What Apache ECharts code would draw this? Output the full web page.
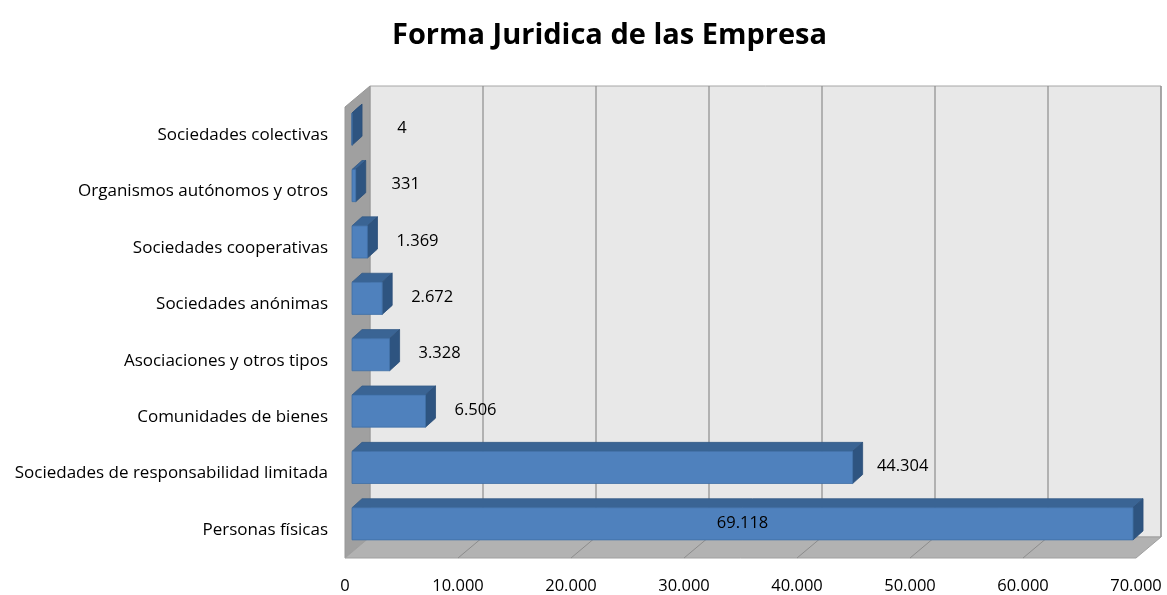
<!DOCTYPE html>
<html><head><meta charset="utf-8">
<script src="https://cdn.jsdelivr.net/npm/echarts@6/dist/echarts.min.js"></script>
<style>html,body{margin:0;padding:0;background:#fff}#c{width:1167px;height:595px}</style>
</head><body><div id="c"></div>
<script>
const titleText = "Forma Juridica de las Empresa";
const categories = [
  "Personas físicas",
  "Sociedades de responsabilidad limitada",
  "Comunidades de bienes",
  "Asociaciones y otros tipos",
  "Sociedades anónimas",
  "Sociedades cooperativas",
  "Organismos autónomos y otros",
  "Sociedades colectivas"
];
const values = [69118, 44304, 6506, 3328, 2672, 1369, 331, 4];
const xTicks = [0, 10000, 20000, 30000, 40000, 50000, 60000, 70000];

const FONT = "'Open Sans'";
const fmt = v => String(v).replace(/\B(?=(\d{3})+(?!\d))/g, ".");

// 3D look parameters (pixels)
const WALL_DX = 25, WALL_DY = -21;
const BAR_OX = 7, BAR_OY = -6;
const BAR_DX = 10, BAR_DY = -9;

const chart = echarts.init(document.getElementById('c'), null, {renderer: 'canvas'});

function renderWalls(params, api) {
  const cs = params.coordSys;
  const x = cs.x, y = cs.y, w = cs.width, h = cs.height;
  const children = [];
  children.push({type: 'rect', shape: {x: x + WALL_DX, y: y + WALL_DY, width: w, height: h},
    style: {fill: '#e8e8e8', stroke: '#a6a6a6', lineWidth: 1}});
  xTicks.forEach(t => {
    const px = api.coord([t, 0])[0];
    if (t > 0) children.push({type: 'line', shape: {x1: px + WALL_DX, y1: y + WALL_DY, x2: px + WALL_DX, y2: y + h + WALL_DY},
      style: {stroke: '#8c8c8c', lineWidth: 1.2}});
  });
  children.push({type: 'polygon', shape: {points: [[x, y + h], [x, y], [x + WALL_DX, y + WALL_DY], [x + WALL_DX, y + h + WALL_DY]]},
    style: {fill: '#a0a0a0', stroke: '#979797', lineWidth: 1}});
  children.push({type: 'polygon', shape: {points: [[x, y + h], [x + w, y + h], [x + w + WALL_DX, y + h + WALL_DY], [x + WALL_DX, y + h + WALL_DY]]},
    style: {fill: '#b2b2b2', stroke: '#a0a0a0', lineWidth: 1}});
  xTicks.forEach(t => {
    const px = api.coord([t, 0])[0];
    if (t > 0 && t < 70000) children.push({type: 'line', shape: {x1: px, y1: y + h, x2: px + WALL_DX, y2: y + h + WALL_DY},
      style: {stroke: '#8c8c8c', lineWidth: 1}});
  });
  return {type: 'group', children: children};
}

function renderBar(params, api) {
  const v = api.value(0), ci = api.value(1);
  const cs = params.coordSys;
  const p0 = api.coord([0, ci]), p1 = api.coord([v, ci]);
  const bh = api.size([0, 1])[1] * 0.57;
  const x0 = p0[0] + BAR_OX, x1 = p1[0] + BAR_OX;
  const yc = p0[1] + BAR_OY, yt = yc - bh / 2, yb = yc + bh / 2;
  const txt = fmt(v);
  let lx = x1 + 50;
  if (lx + 25 > cs.x + cs.width) lx = (x0 + x1) / 2;
  return {type: 'group', children: [
    {type: 'polygon', shape: {points: [[x0, yt], [x1, yt], [x1 + BAR_DX, yt + BAR_DY], [x0 + BAR_DX, yt + BAR_DY]]},
      style: {fill: '#3a6494', stroke: '#355a87', lineWidth: 0.8}},
    {type: 'polygon', shape: {points: [[x1, yt], [x1 + BAR_DX, yt + BAR_DY], [x1 + BAR_DX, yb + BAR_DY], [x1, yb]]},
      style: {fill: '#2e5480', stroke: '#2c4f79', lineWidth: 0.8}},
    {type: 'rect', shape: {x: x0, y: yt, width: Math.max(x1 - x0, 0), height: bh},
      style: {fill: '#4f81bd', stroke: '#3f6ea6', lineWidth: 0.8}},
    {type: 'text', x: lx, y: yc - 1, style: {text: txt, fill: '#000', font: '16.5px ' + FONT, align: 'center', verticalAlign: 'middle'}}
  ]};
}

chart.setOption({
  animation: false,
  backgroundColor: '#ffffff',
  title: {text: titleText, left: 387, top: 16,
    textStyle: {fontFamily: 'Open Sans', fontSize: 29, fontWeight: 'bold', color: '#000'}},
  grid: {left: 345, top: 107, width: 791, height: 451, containLabel: false},
  xAxis: {type: 'value', min: 0, max: 70000, interval: 10000,
    axisLine: {show: false}, axisTick: {show: false}, splitLine: {show: false},
    axisLabel: {formatter: v => fmt(v), fontFamily: 'Open Sans', fontSize: 16.5, color: '#000', margin: 20}},
  yAxis: {type: 'category', data: categories,
    axisLine: {show: false}, axisTick: {show: false}, splitLine: {show: false},
    axisLabel: {fontFamily: 'Open Sans', fontSize: 17, color: '#000', margin: 17}},
  series: [
    {type: 'custom', name: 'walls', renderItem: renderWalls, data: [[0, 0]], clip: false, z: 1, silent: true,
      encode: {x: 0, y: 1}},
    {type: 'custom', name: 'Empresas', renderItem: renderBar, clip: false, z: 5,
      data: values.map((v, i) => [v, i]), encode: {x: 0, y: 1}}
  ]
});
</script>
</body></html>
